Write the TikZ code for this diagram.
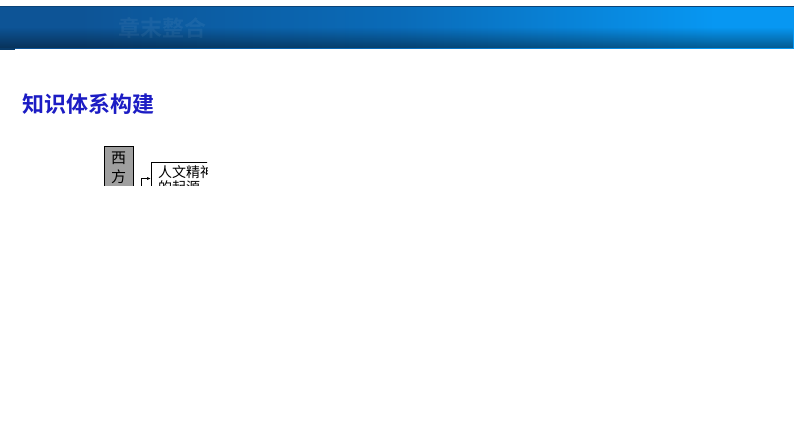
\documentclass[tikz,border=0pt]{standalone}
\usepackage{fontspec}
\newfontfamily\cjk{Noto Sans CJK SC}
\newfontfamily\cjkb{Noto Sans CJK SC Bold}
\usetikzlibrary{fadings,arrows.meta}
\definecolor{bannerL}{HTML}{0D5496}
\definecolor{bannerM}{HTML}{0A6BB8}
\definecolor{bannerR}{HTML}{0797F2}
\definecolor{titleblue}{HTML}{1C1CC4}
\pgfdeclarehorizontalshading{bannershade}{100bp}{
  color(0bp)=(bannerL); color(30bp)=(bannerL); color(50bp)=(bannerM);
  color(70bp)=(bannerR); color(100bp)=(bannerR)}
\tikzset{
  boxgray/.style={draw=black,line width=0.8pt,fill=gray!75,inner sep=0pt},
  boxwhite/.style={draw=black,line width=0.8pt,fill=white,inner sep=0pt},
}
\begin{document}
\begin{tikzpicture}[x=1pt,y=1pt]
\useasboundingbox (0,0) rectangle (794,-447);
\fill[white] (0,0) rectangle (794,-447);
% banner
\shade[shading=bannershade] (0,-6) rectangle (794,-48);
\fill[black,opacity=0.4,path fading=north] (0,-27) rectangle (794,-48);
\draw[bannerL!80!black,line width=0.8pt] (0,-6.5) -- (794,-6.5);
\fill[bannerL!70!black] (0,-48) rectangle (15,-50);
\node[anchor=west,text=white,opacity=0.06,font=\cjkb\fontsize{22}{22}\selectfont,inner sep=0pt] (bt) at (118,-28) {章末整合};
% title
\node[anchor=west,text=titleblue,font=\cjkb\fontsize{22}{22}\selectfont,inner sep=0pt] (title) at (22,-104) {知识体系构建};
% clipped diagram
\begin{scope}
\clip (90,-140) rectangle (207,-185.5);
\node[boxgray,minimum width=29,minimum height=60,anchor=north west] (xf) at (104,-146) {};
\node[font=\cjk\fontsize{15}{15}\selectfont,inner sep=0pt] (c1) at (118.5,-158) {西};
\node[font=\cjk\fontsize{15}{15}\selectfont,inner sep=0pt] (c2) at (118.5,-177) {方};
\node[boxwhite,minimum width=80,minimum height=40,anchor=north west] (rw) at (151,-162) {};
\node[anchor=north west,font=\cjk\fontsize{14}{15.5}\selectfont,inner sep=0pt,align=left] (t1) at (158,-165) {人文精神\\的起源};
\coordinate (br) at (141,-195);
\draw[line width=0.7pt,-{Latex[length=4pt,width=3pt]}] (br) |- (rw.west |- 0,-178.5);
\end{scope}
\end{tikzpicture}
\end{document}
